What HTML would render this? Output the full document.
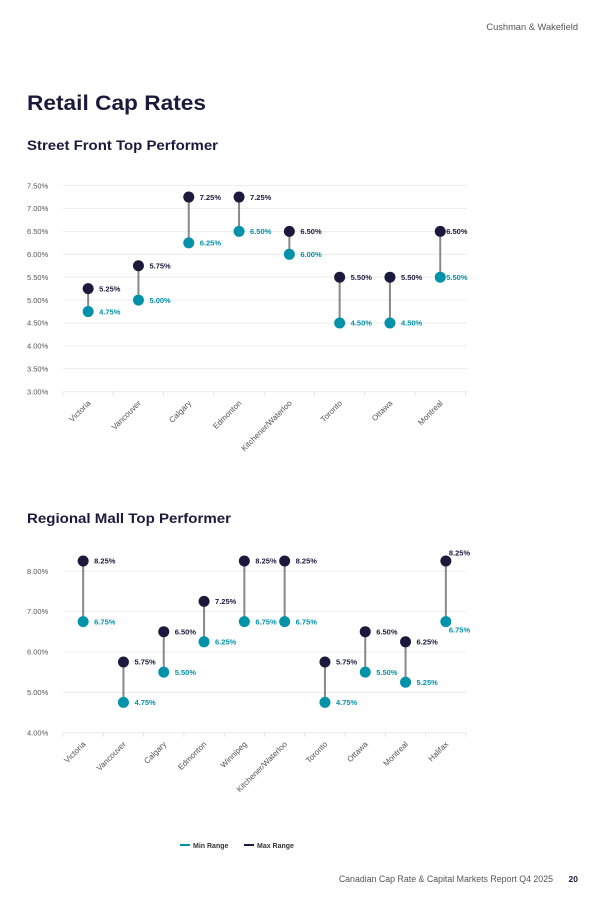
<!DOCTYPE html>
<html><head><meta charset="utf-8"><style>
html,body{margin:0;padding:0;background:#fff;}
body{width:605px;height:897px;overflow:hidden;font-family:"Liberation Sans",sans-serif;}
</style></head><body>
<svg id="s" width="605" height="897" xmlns="http://www.w3.org/2000/svg" font-family="Liberation Sans, sans-serif">
<text x="578" y="30" font-size="9.3" fill="#555" text-anchor="end">Cushman &amp; Wakefield</text>
<text x="27" y="110" font-size="21" font-weight="bold" fill="#1b1a3d" textLength="179" lengthAdjust="spacingAndGlyphs">Retail Cap Rates</text>
<text x="27" y="150" font-size="13.5" font-weight="bold" fill="#1b1a3d" textLength="191" lengthAdjust="spacingAndGlyphs">Street Front Top Performer</text>
<text x="27" y="523" font-size="13.5" font-weight="bold" fill="#1b1a3d" textLength="204" lengthAdjust="spacingAndGlyphs">Regional Mall Top Performer</text>
<line x1="180" y1="845" x2="190" y2="845" stroke="#0092a8" stroke-width="2"/>
<text x="193" y="848" font-size="7" font-weight="bold" fill="#333">Min Range</text>
<line x1="244" y1="845" x2="254" y2="845" stroke="#1b1a3d" stroke-width="2"/>
<text x="257" y="848" font-size="7" font-weight="bold" fill="#333">Max Range</text>
<text x="553" y="882" font-size="8.8" fill="#555" text-anchor="end">Canadian Cap Rate &amp; Capital Markets Report Q4 2025</text>
<text x="578" y="882" font-size="8.5" font-weight="bold" fill="#1b1a3d" text-anchor="end">20</text>
<g id="g"></g>
</svg>
<script>
var g=document.getElementById('g'),h='';
function chart(o){
  var y=function(v){return o.y0-(v-o.v0)*o.k;};
  o.ticks.forEach(function(t){var yy=y(t);
    h+='<line x1="63" x2="'+o.right+'" y1="'+yy+'" y2="'+yy+'" stroke="#e8e8e8" stroke-width="0.8"/>';
    h+='<text x="27" y="'+(yy+2.7)+'" font-size="7.5" fill="#555">'+t.toFixed(2)+'%</text>';});
  var n=o.d.length;
  for(var i=0;i<=n;i++){var tx=63+o.sp*i;h+='<line x1="'+tx+'" x2="'+tx+'" y1="'+o.y0+'" y2="'+(o.y0+4)+'" stroke="#ddd" stroke-width="0.8"/>';}
  o.d.forEach(function(d,i){
    var x=63+o.sp*(i+0.5),a=y(d[1]),b=y(d[2]);
    h+='<line x1="'+x+'" x2="'+x+'" y1="'+a+'" y2="'+b+'" stroke="#888" stroke-width="2"/>';
    h+='<circle cx="'+x+'" cy="'+b+'" r="5.5" fill="#1b1a3d"/><circle cx="'+x+'" cy="'+a+'" r="5.5" fill="#0092a8"/>';
    var off=d[3]||{},dx=off.dx||11,dyh=off.dyh||0,dyl=off.dyl||0;
    h+='<text x="'+(x+dx)+'" y="'+(b+2.7+dyh)+'" font-size="7.5" font-weight="bold" fill="#1b1a3d">'+d[2].toFixed(2)+'%</text>';
    h+='<text x="'+(x+dx)+'" y="'+(a+2.7+dyl)+'" font-size="7.5" font-weight="bold" fill="#0092a8">'+d[1].toFixed(2)+'%</text>';
    h+='<text transform="translate('+(x+3)+','+(o.y0+12)+') rotate(-45)" font-size="8" fill="#555" text-anchor="end">'+d[0]+'</text>';
  });
}
chart({y0:391.7,v0:3,k:45.8,right:467,sp:50.3,ticks:[3,3.5,4,4.5,5,5.5,6,6.5,7,7.5],
 d:[["Victoria",4.75,5.25],["Vancouver",5,5.75],["Calgary",6.25,7.25],["Edmonton",6.5,7.25],["Kitchener/Waterloo",6,6.5],["Toronto",4.5,5.5],["Ottawa",4.5,5.5],["Montreal",5.5,6.5,{dx:6}]]});
chart({y0:732.7,v0:4,k:40.4,right:466,sp:40.3,ticks:[4,5,6,7,8],
 d:[["Victoria",6.75,8.25],["Vancouver",4.75,5.75],["Calgary",5.5,6.5],["Edmonton",6.25,7.25],["Winnipeg",6.75,8.25],["Kitchener/Waterloo",6.75,8.25],["Toronto",4.75,5.75],["Ottawa",5.5,6.5],["Montreal",5.25,6.25],["Halifax",6.75,8.25,{dx:3,dyh:-8,dyl:8}]]});
g.innerHTML=h;
</script>
</body></html>
